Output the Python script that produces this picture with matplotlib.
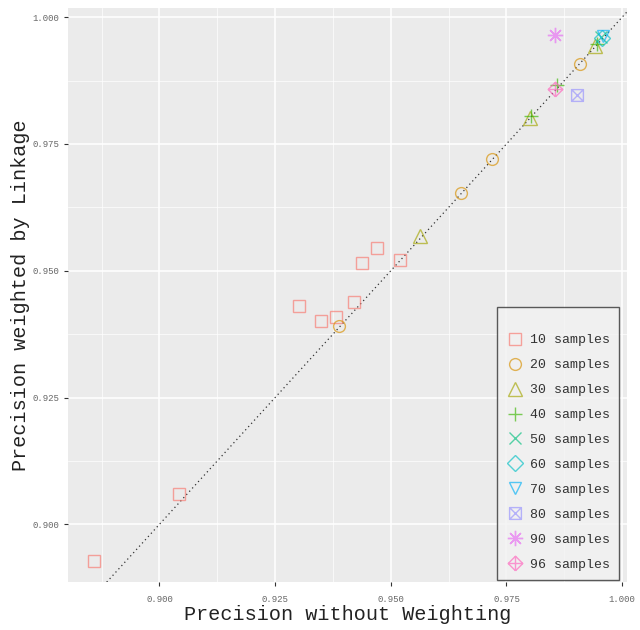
import matplotlib
matplotlib.use("Agg")
import matplotlib.pyplot as plt
from matplotlib.path import Path
from matplotlib.ticker import MultipleLocator

# precision without weighting (x) vs weighted by linkage (y), per sample size
labels = ["10 samples", "20 samples", "30 samples", "40 samples", "50 samples",
          "60 samples", "70 samples", "80 samples", "90 samples", "96 samples"]
colors = ["#F8766D", "#D89000", "#A3A500", "#39B600", "#00BF7D",
          "#00BFC4", "#00B0F6", "#9590FF", "#E76BF3", "#FF62BC"]

x10 = [0.8858, 0.9042, 0.9302, 0.9349, 0.9382, 0.9421, 0.9437, 0.9471, 0.9519]
y10 = [0.8928, 0.9059, 0.9431, 0.9401, 0.9408, 0.9439, 0.9515, 0.9545, 0.9521]
x20 = [0.9389, 0.9651, 0.9719, 0.9908]
y20 = [0.9391, 0.9653, 0.9720, 0.9908]
x30 = [0.9564, 0.9800, 0.9942]
y30 = [0.9568, 0.9801, 0.9944]
x40 = [0.9803, 0.9860, 0.9945]
y40 = [0.9806, 0.9866, 0.9948]
x50 = [0.9955]
y50 = [0.9960]
x60 = [0.9957]
y60 = [0.9959]
x70 = [0.9958]
y70 = [0.9962]
x80 = [0.9903]
y80 = [0.9847]
x90 = [0.9854]
y90 = [0.9965]
x96 = [0.9854]
y96 = [0.9858]

xs = [x10, x20, x30, x40, x50, x60, x70, x80, x90, x96]
ys = [y10, y20, y30, y40, y50, y60, y70, y80, y90, y96]

# ggplot shapes 7 (square with cross) and 9 (diamond with plus)
M, L = Path.MOVETO, Path.LINETO
sq_x = Path([(-1, -1), (1, -1), (1, 1), (-1, 1), (-1, -1), (-1, -1), (1, 1), (-1, 1), (1, -1)],
            [M, L, L, L, L, M, L, M, L])
dia_plus = Path([(0, -1), (1, 0), (0, 1), (-1, 0), (0, -1), (0, -1), (0, 1), (-1, 0), (1, 0)],
                [M, L, L, L, L, M, L, M, L])
markers = ["s", "o", "^", "+", "x", "D", "v", sq_x, (8, 2, 0), dia_plus]
sizes = [8, 8.5, 10, 10, 8, 8, 9, 8.5, 11, 10.5]

plt.rcParams["font.family"] = ["Liberation Mono", "DejaVu Sans Mono"]

fig = plt.figure(figsize=(6.4, 6.3), dpi=100)
ax = fig.add_axes([0.106, 0.076, 0.874, 0.912])
ax.set_facecolor("#EBEBEB")
for s in ax.spines.values():
    s.set_visible(False)

ax.axline((0.9, 0.9), slope=1, ls=(0, (1, 2.5)), color="#333333", lw=0.9, zorder=2)

for i in range(len(labels)):
    ax.plot(xs[i], ys[i], ls="none", marker=markers[i], ms=sizes[i],
            mfc="none", mec=colors[i], mew=1.0, alpha=0.65, label=labels[i], zorder=3)

ax.set_xlim(0.8802, 1.0011)
ax.set_ylim(0.8886, 1.0019)
ax.xaxis.set_major_locator(MultipleLocator(0.025))
ax.yaxis.set_major_locator(MultipleLocator(0.025))
ax.xaxis.set_minor_locator(MultipleLocator(0.0125))
ax.yaxis.set_minor_locator(MultipleLocator(0.0125))
ax.xaxis.set_major_formatter(lambda v, p: f"{v:.3f}")
ax.yaxis.set_major_formatter(lambda v, p: f"{v:.3f}")
ax.grid(which="major", color="white", lw=1.1, zorder=0)
ax.grid(which="minor", color="white", lw=0.5, zorder=0)
ax.set_axisbelow(True)
ax.tick_params(which="major", length=3, width=0.8, color="#333333",
               labelsize=6.5, labelcolor="#666666")
ax.tick_params(axis="x", pad=6)
ax.tick_params(axis="y", pad=3)
ax.tick_params(which="minor", length=0)

ax.set_xlabel("Precision without Weighting", fontsize=14.5, color="#222222", labelpad=1)
ax.set_ylabel("Precision weighted by Linkage", fontsize=14.5, color="#222222", labelpad=2)

leg = ax.legend(loc="lower right", bbox_to_anchor=(0.986, 0.004), borderaxespad=0,
                fontsize=9.5, labelspacing=0.96, handlelength=1.3, handletextpad=0.5,
                borderpad=0.7, frameon=True, fancybox=False, numpoints=1,
                title=" ", title_fontsize=4)
leg.get_frame().set_facecolor("#F2F2F2")
leg.get_frame().set_edgecolor("#333333")
leg.get_frame().set_linewidth(1.0)
for t in leg.get_texts():
    t.set_color("#333333")

fig.savefig("out.png", dpi=100)
